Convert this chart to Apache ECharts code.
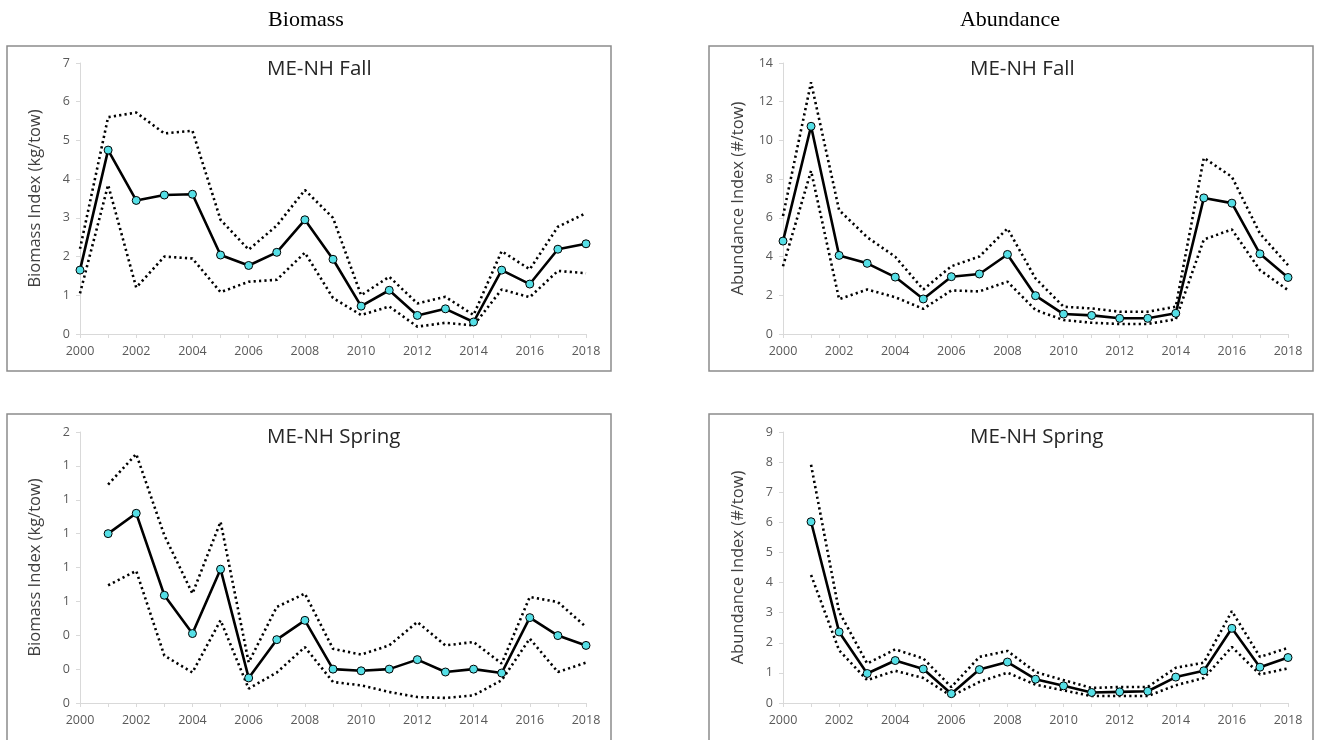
<!DOCTYPE html>
<html>
<head>
<meta charset="utf-8">
<script src="https://cdn.jsdelivr.net/npm/echarts@6/dist/echarts.min.js"></script>
<style>
html, body { margin: 0; padding: 0; background: #fff; }
#main { width: 1321px; height: 740px; }
</style>
</head>
<body>
<div id="main"></div>
<script>
// 年份
var years = [2000, 2001, 2002, 2003, 2004, 2005, 2006, 2007, 2008, 2009,
	2010, 2011, 2012, 2013, 2014, 2015, 2016, 2017, 2018];

// Biomass - ME-NH Fall
var bioFall = [1.65, 4.75, 3.45, 3.59, 3.61, 2.04, 1.77, 2.11, 2.95, 1.93,
	0.72, 1.13, 0.48, 0.65, 0.31, 1.65, 1.29, 2.19, 2.33];
var bioFallHi = [2.2, 5.6, 5.72, 5.18, 5.25, 2.95, 2.18, 2.8, 3.72, 3.0,
	1.0, 1.48, 0.79, 0.96, 0.49, 2.14, 1.67, 2.77, 3.12];
var bioFallLo = [1.05, 3.85, 1.2, 2.0, 1.95, 1.08, 1.35, 1.4, 2.1, 0.93,
	0.49, 0.71, 0.19, 0.29, 0.22, 1.15, 0.95, 1.63, 1.57];

// Abundance - ME-NH Fall
var abuFall = [4.8, 10.73, 4.06, 3.65, 2.94, 1.81, 2.96, 3.1, 4.11, 1.98,
	1.03, 0.96, 0.81, 0.81, 1.07, 7.03, 6.76, 4.14, 2.92];
var abuFallHi = [6.1, 13.0, 6.4, 5.0, 3.99, 2.3, 3.5, 4.0, 5.45, 2.87,
	1.41, 1.32, 1.15, 1.15, 1.41, 9.1, 8.12, 5.19, 3.56];
var abuFallLo = [3.5, 8.43, 1.8, 2.3, 1.9, 1.3, 2.25, 2.2, 2.7, 1.24,
	0.72, 0.58, 0.52, 0.52, 0.76, 4.88, 5.4, 3.3, 2.27];

// Biomass - ME-NH Spring (无2000年数据)
var bioSpring = [null, 1.0, 1.12, 0.636, 0.41, 0.79, 0.148, 0.374, 0.488, 0.2,
	0.19, 0.2, 0.256, 0.183, 0.2, 0.177, 0.504, 0.398, 0.34];
var bioSpringHi = [null, 1.29, 1.47, 0.99, 0.646, 1.07, 0.24, 0.567, 0.646, 0.32,
	0.286, 0.34, 0.478, 0.34, 0.36, 0.233, 0.626, 0.596, 0.449];
var bioSpringLo = [null, 0.695, 0.78, 0.28, 0.18, 0.488, 0.085, 0.18, 0.33, 0.124,
	0.104, 0.065, 0.035, 0.03, 0.045, 0.134, 0.38, 0.183, 0.238];

// Abundance - ME-NH Spring
var abuSpring = [null, 6.02, 2.36, 0.98, 1.41, 1.13, 0.31, 1.11, 1.36, 0.79,
	0.57, 0.35, 0.37, 0.39, 0.86, 1.07, 2.48, 1.19, 1.51];
var abuSpringHi = [null, 7.91, 3.03, 1.31, 1.78, 1.48, 0.53, 1.53, 1.73, 1.03,
	0.76, 0.5, 0.53, 0.53, 1.17, 1.34, 3.05, 1.53, 1.83];
var abuSpringLo = [null, 4.25, 1.75, 0.76, 1.07, 0.83, 0.23, 0.7, 1.01, 0.61,
	0.42, 0.23, 0.23, 0.23, 0.59, 0.83, 1.86, 0.95, 1.15];

// 坐标轴刻度
var bioFallTicks = { max: 7, interval: 1 };
var abuFallTicks = { max: 14, interval: 2 };
var bioSpringTicks = { max: 1.6, interval: 0.2 };
var abuSpringTicks = { max: 9, interval: 1 };

var panelTitles = ['ME-NH Fall', 'ME-NH Fall', 'ME-NH Spring', 'ME-NH Spring'];
var yNames = ['Biomass Index (kg/tow)', 'Abundance Index (#/tow)', 'Biomass Index (kg/tow)', 'Abundance Index (#/tow)'];

function pairs(vals) {
	var out = [];
	for (var i = 0; i < years.length; i++) {
		if (vals[i] != null) out.push([years[i], vals[i]]);
	}
	return out;
}

var chart = echarts.init(document.getElementById('main'));

var axisGray = '#d9d9d9';
var labelGray = '#595959';
var fontBody = '"Open Sans", "Noto Sans", sans-serif';

var grids = [
	{ left: 80, top: 63, width: 506, height: 271 },
	{ left: 783, top: 63, width: 505, height: 271 },
	{ left: 80, top: 432, width: 506, height: 271 },
	{ left: 783, top: 432, width: 505, height: 271 }
];

var ticks = [bioFallTicks, abuFallTicks, bioSpringTicks, abuSpringTicks];

var xAxes = [], yAxes = [];
for (var g = 0; g < 4; g++) {
	xAxes.push({
		type: 'value', gridIndex: g, min: 2000, max: 2018, interval: 1,
		axisLine: { lineStyle: { color: axisGray, width: 1 } },
		axisTick: { show: true, length: 4, lineStyle: { color: axisGray } },
		splitLine: { show: false },
		axisLabel: {
			color: labelGray, fontFamily: fontBody, fontSize: 12.5, margin: 11,
			formatter: function(v) { return v % 2 === 0 ? String(v) : ''; }
		}
	});
	yAxes.push({
		type: 'value', gridIndex: g, min: 0, max: ticks[g].max, interval: ticks[g].interval,
		name: yNames[g], nameLocation: 'middle', nameGap: 36,
		nameTextStyle: { color: '#404040', fontFamily: fontBody, fontSize: 16.5 },
		axisLine: { show: true, lineStyle: { color: axisGray, width: 1 } },
		axisTick: { show: true, length: 4, lineStyle: { color: axisGray } },
		splitLine: { show: false },
		axisLabel: {
			color: labelGray, fontFamily: fontBody, fontSize: 12.5, margin: 10,
			formatter: function(v) { return String(Math.round(v)); }
		}
	});
}

var mainSets = [bioFall, abuFall, bioSpring, abuSpring];
var hiSets = [bioFallHi, abuFallHi, bioSpringHi, abuSpringHi];
var loSets = [bioFallLo, abuFallLo, bioSpringLo, abuSpringLo];

var series = [];
for (var k = 0; k < 4; k++) {
	[hiSets[k], loSets[k]].forEach(function(arr) {
		series.push({
			type: 'line', xAxisIndex: k, yAxisIndex: k, data: pairs(arr),
			symbol: 'none', silent: true, z: 2,
			lineStyle: { color: '#000', width: 2.6, type: [2.2, 3.2], cap: 'butt' }
		});
	});
	series.push({
		type: 'line', xAxisIndex: k, yAxisIndex: k, data: pairs(mainSets[k]),
		symbol: 'circle', symbolSize: 8, z: 3,
		lineStyle: { color: '#000', width: 2.6 },
		itemStyle: { color: '#55dfe6', borderColor: '#000', borderWidth: 1 }
	});
}

// 面板边框与标题
var boxes = [
	{ x: 7, y: 46, w: 604, h: 325 },
	{ x: 709, y: 46, w: 604, h: 325 },
	{ x: 7, y: 414, w: 604, h: 330 },
	{ x: 709, y: 414, w: 604, h: 330 }
];
var titleX = [267, 970, 267, 970];
var graphics = [];
boxes.forEach(function(b, i) {
	graphics.push({
		type: 'rect', shape: { x: b.x, y: b.y, width: b.w, height: b.h },
		style: { fill: 'none', stroke: '#8c8c8c', lineWidth: 1.5 }, z: 0
	});
	graphics.push({
		type: 'text', x: titleX[i], y: b.y + 23,
		style: { text: panelTitles[i], fill: '#262626', font: '20.5px "Open Sans", sans-serif', textVerticalAlign: 'middle' }
	});
});
graphics.push({
	type: 'text', x: 306, y: 20,
	style: { text: 'Biomass', fill: '#000', font: '22px "Liberation Serif", serif', textAlign: 'center', textVerticalAlign: 'middle' }
});
graphics.push({
	type: 'text', x: 1010, y: 20,
	style: { text: 'Abundance', fill: '#000', font: '22px "Liberation Serif", serif', textAlign: 'center', textVerticalAlign: 'middle' }
});

chart.setOption({
	animation: false,
	grid: grids,
	xAxis: xAxes,
	yAxis: yAxes,
	series: series,
	graphic: graphics
});
</script>
</body>
</html>
